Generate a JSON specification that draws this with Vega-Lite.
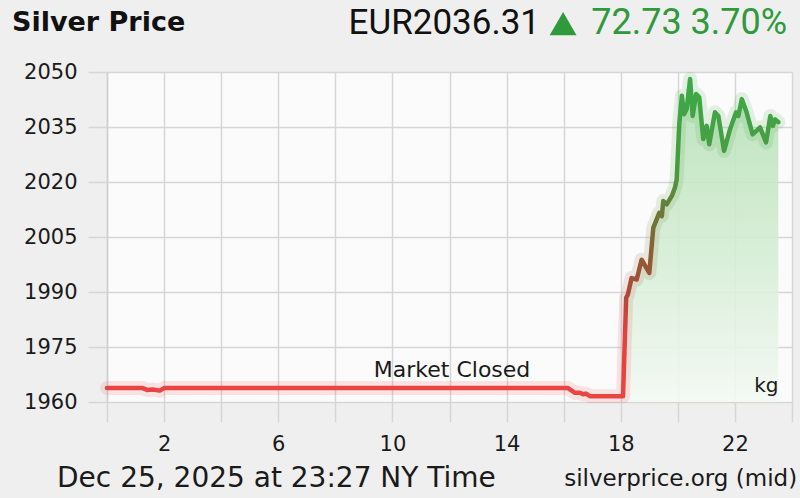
{
  "$schema": "https://vega.github.io/schema/vega-lite/v6.json",
  "width": 685,
  "height": 330,
  "autosize": "none",
  "padding": {"left": 107, "top": 72, "right": 8, "bottom": 96},
  "background": "#efefef",
  "config": {
    "view": {"fill": "#fbfbfb", "stroke": null},
    "axis": {"gridColor": "#d6d6d6", "gridWidth": 1.5, "tickColor": "#d6d6d6", "tickWidth": 1.5, "labelFont": "DejaVu Sans", "labelFontSize": 21, "labelColor": "#1a1a1a", "title": null}
  },
  "datasets": {
    "silver": [
      {"hour": 0, "price": 1963.8}, {"hour": 1.25, "price": 1963.8}, {"hour": 1.4, "price": 1963.3}, {"hour": 1.6, "price": 1963.4}, {"hour": 1.85, "price": 1963.1}, {"hour": 2.0, "price": 1963.8},
      {"hour": 16.15, "price": 1963.8}, {"hour": 16.4, "price": 1962.5}, {"hour": 16.57, "price": 1962.5}, {"hour": 16.68, "price": 1962.1}, {"hour": 16.78, "price": 1962.3}, {"hour": 16.92, "price": 1961.6},
      {"hour": 18.08, "price": 1961.6}, {"hour": 18.19, "price": 1988.4}, {"hour": 18.25, "price": 1989.3}, {"hour": 18.38, "price": 1993.8}, {"hour": 18.56, "price": 1993.4}, {"hour": 18.73, "price": 1998.8},
      {"hour": 19.0, "price": 1995.2}, {"hour": 19.14, "price": 2007.5}, {"hour": 19.35, "price": 2011.6}, {"hour": 19.44, "price": 2010.7}, {"hour": 19.49, "price": 2014.8}, {"hour": 19.61, "price": 2013.9},
      {"hour": 19.79, "price": 2016.2}, {"hour": 19.9, "price": 2018.5}, {"hour": 19.96, "price": 2020.7}, {"hour": 20.05, "price": 2035.8}, {"hour": 20.14, "price": 2043.5}, {"hour": 20.22, "price": 2038.5},
      {"hour": 20.31, "price": 2039.9}, {"hour": 20.43, "price": 2048.1}, {"hour": 20.52, "price": 2038.0}, {"hour": 20.64, "price": 2044.0}, {"hour": 20.75, "price": 2043.1}, {"hour": 20.89, "price": 2031.7},
      {"hour": 21.01, "price": 2035.3}, {"hour": 21.1, "price": 2030.3}, {"hour": 21.3, "price": 2039.0}, {"hour": 21.42, "price": 2038.0}, {"hour": 21.62, "price": 2028.5}, {"hour": 21.83, "price": 2034.4},
      {"hour": 22.04, "price": 2039.0}, {"hour": 22.12, "price": 2038.0}, {"hour": 22.24, "price": 2042.6}, {"hour": 22.41, "price": 2039.0}, {"hour": 22.62, "price": 2033.0}, {"hour": 22.88, "price": 2034.9},
      {"hour": 23.09, "price": 2030.8}, {"hour": 23.24, "price": 2038.0}, {"hour": 23.33, "price": 2035.3}, {"hour": 23.41, "price": 2037.1}, {"hour": 23.52, "price": 2036.31}
    ]
  },
  "layer": [
    {
      "data": {"name": "silver"},
      "transform": [{"filter": "datum.hour >= 18.08"}],
      "mark": {"type": "area", "opacity": 0.9, "color": {"gradient": "linear", "x1": 0, "y1": 0, "x2": 0, "y2": 1, "stops": [{"offset": 0, "color": "#b5e0b5"}, {"offset": 0.5, "color": "#d2ecd2"}, {"offset": 1, "color": "#f3f9f3"}]}},
      "encoding": {
        "x": {"field": "hour", "type": "quantitative", "scale": {"domain": [0, 24]},
              "axis": {"values": [0, 2, 4, 6, 8, 10, 12, 14, 16, 18, 20, 22, 24], "labelExpr": "datum.value % 4 == 2 ? datum.value : ''", "tickSize": 20, "labelPadding": 11, "domain": false, "labelFlush": false}},
        "y": {"field": "price", "type": "quantitative", "scale": {"domain": [1960, 2050], "zero": false},
              "axis": {"values": [1960, 1975, 1990, 2005, 2020, 2035, 2050], "format": "d", "tickSize": 19, "labelPadding": 11, "domain": true, "domainColor": "#d0d0d0", "domainWidth": 1.5, "labelFlush": false}},
        "y2": {"datum": 1960}
      }
    },
    {
      "data": {"name": "silver"},
      "mark": {"type": "line", "strokeWidth": 14, "opacity": 0.14, "strokeJoin": "round", "strokeCap": "round", "stroke": {"gradient": "linear", "x1": 0, "y1": 0, "x2": 0, "y2": 1, "stops": [{"offset": 0, "color": "#3daa47"}, {"offset": 0.3, "color": "#4a9a40"}, {"offset": 0.42, "color": "#6a7a38"}, {"offset": 0.55, "color": "#8a5e34"}, {"offset": 0.68, "color": "#b04838"}, {"offset": 0.8, "color": "#e44040"}, {"offset": 1, "color": "#f04848"}]}},
      "encoding": {
        "x": {"field": "hour", "type": "quantitative"},
        "y": {"field": "price", "type": "quantitative"}
      }
    },
    {
      "data": {"name": "silver"},
      "mark": {"type": "line", "strokeWidth": 4.5, "strokeJoin": "round", "strokeCap": "round", "stroke": {"gradient": "linear", "x1": 0, "y1": 0, "x2": 0, "y2": 1, "stops": [{"offset": 0, "color": "#3daa47"}, {"offset": 0.3, "color": "#4a9a40"}, {"offset": 0.42, "color": "#6a7a38"}, {"offset": 0.55, "color": "#8a5e34"}, {"offset": 0.68, "color": "#b04838"}, {"offset": 0.8, "color": "#e44040"}, {"offset": 1, "color": "#e84545"}]}},
      "encoding": {
        "x": {"field": "hour", "type": "quantitative"},
        "y": {"field": "price", "type": "quantitative"}
      }
    },
    {
      "data": {"values": [{"label": "Market Closed"}]},
      "mark": {"type": "text", "font": "DejaVu Sans", "fontSize": 22, "color": "#1a1a1a", "baseline": "middle"},
      "encoding": {"x": {"datum": 12.09, "type": "quantitative"}, "y": {"datum": 1968.75, "type": "quantitative"}, "text": {"field": "label"}}
    },
    {
      "data": {"values": [{"label": "kg"}]},
      "mark": {"type": "text", "font": "DejaVu Sans", "fontSize": 20, "color": "#1a1a1a", "baseline": "middle"},
      "encoding": {"x": {"datum": 23.1, "type": "quantitative"}, "y": {"datum": 1964.3, "type": "quantitative"}, "text": {"field": "label"}}
    },
    {
      "data": {"values": [{"label": "Silver Price"}]},
      "mark": {"type": "text", "font": "DejaVu Sans", "fontSize": 27, "fontWeight": "bold", "color": "#111111", "align": "left", "baseline": "middle"},
      "encoding": {"x": {"datum": -3.33, "type": "quantitative"}, "y": {"datum": 2063.3, "type": "quantitative"}, "text": {"field": "label"}}
    },
    {
      "data": {"values": [{"label": "EUR2036.31"}]},
      "mark": {"type": "text", "font": "Roboto", "fontSize": 35, "color": "#111111", "align": "right", "baseline": "middle"},
      "encoding": {"x": {"datum": 15.17, "type": "quantitative"}, "y": {"datum": 2063.3, "type": "quantitative"}, "text": {"field": "label"}}
    },
    {
      "data": {"values": [{"label": "up"}]},
      "mark": {"type": "point", "shape": "triangle-up", "filled": true, "size": 720, "color": "#2e9a3a", "opacity": 1},
      "encoding": {"x": {"datum": 15.98, "type": "quantitative"}, "y": {"datum": 2063.2, "type": "quantitative"}}
    },
    {
      "data": {"values": [{"label": "72.73 3.70%"}]},
      "mark": {"type": "text", "font": "Roboto", "fontSize": 36, "color": "#2e9a3a", "align": "right", "baseline": "middle"},
      "encoding": {"x": {"datum": 23.83, "type": "quantitative"}, "y": {"datum": 2063.3, "type": "quantitative"}, "text": {"field": "label"}}
    },
    {
      "data": {"values": [{"label": "Dec 25, 2025 at 23:27 NY Time"}]},
      "mark": {"type": "text", "font": "DejaVu Sans", "fontSize": 28, "color": "#1a1a1a", "align": "left", "baseline": "middle"},
      "encoding": {"x": {"datum": -1.75, "type": "quantitative"}, "y": {"datum": 1938.9, "type": "quantitative"}, "text": {"field": "label"}}
    },
    {
      "data": {"values": [{"label": "silverprice.org (mid)"}]},
      "mark": {"type": "text", "font": "DejaVu Sans", "fontSize": 23, "color": "#1a1a1a", "align": "right", "baseline": "middle"},
      "encoding": {"x": {"datum": 24.18, "type": "quantitative"}, "y": {"datum": 1938.9, "type": "quantitative"}, "text": {"field": "label"}}
    }
  ]
}
